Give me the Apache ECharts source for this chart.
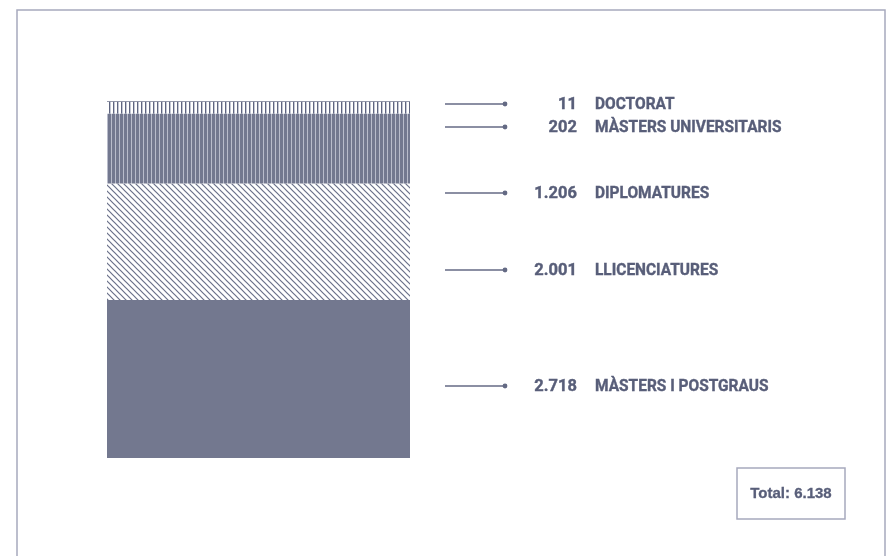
<!DOCTYPE html>
<html><head><meta charset="utf-8">
<script src="https://cdn.jsdelivr.net/npm/echarts@6/dist/echarts.min.js"></script>
<style>html,body{margin:0;padding:0;background:#fff}#c{width:894px;height:556px}</style>
</head><body><div id="c"></div>
<script>
// Data (top to bottom as listed in the reference)
var categories = ['DOCTORAT', 'MÀSTERS UNIVERSITARIS', 'DIPLOMATURES', 'LLICENCIATURES', 'MÀSTERS I POSTGRAUS'];
var values = [11, 202, 1206, 2001, 2718];
var valueLabels = ['11', '202', '1.206', '2.001', '2.718'];
var totalLabel = 'Total: 6.138';

var DARK = '#73788f';
var TEXT = '#585e79';
var FONT = 'bold 17px Roboto, sans-serif';

function tile(w, h, draw) {
  var c = document.createElement('canvas');
  c.width = w; c.height = h;
  var g = c.getContext('2d');
  draw(g, w, h);
  return {image: c, repeat: 'repeat'};
}
var patterns = [
  tile(5, 5, function (g) { g.fillStyle = DARK; g.fillRect(0, 0, 5, 5); g.fillStyle = '#e8e9ef'; g.fillRect(1, 2, 2, 1); }),
  tile(4, 4, function (g) { g.fillStyle = '#fff'; g.fillRect(0, 0, 4, 4); g.fillStyle = '#5f6580'; g.fillRect(1, 0, 1, 4); g.fillStyle = '#c3c6d3'; g.fillRect(2, 0, 1, 4); }),
  tile(4, 4, function (g) { g.fillStyle = DARK; g.fillRect(0, 0, 4, 4); g.fillStyle = '#b9bccb'; g.fillRect(3, 0, 1, 4); }),
  tile(6, 6, function (g) {
    g.fillStyle = '#fff'; g.fillRect(0, 0, 6, 6);
    g.strokeStyle = '#6a7089'; g.lineWidth = 1.2;
    g.beginPath(); g.moveTo(-1, -1); g.lineTo(7, 7); g.moveTo(-4, 2); g.lineTo(4, 10); g.moveTo(2, -4); g.lineTo(10, 4); g.stroke();
  }),
  DARK
];

var total = values.reduce(function (a, b) { return a + b; }, 0);

var series = [];
for (var i = categories.length - 1; i >= 0; i--) {
  series.push({
    type: 'bar', name: categories[i], stack: 's', data: [values[i]],
    barWidth: '100%', itemStyle: {color: patterns[i]}, silent: true, animation: false
  });
}

var labelY = [104, 127, 193, 270, 386];
var graphics = [
  {type: 'rect', shape: {x: 17, y: 10, width: 868, height: 560}, style: {fill: 'none', stroke: '#a7a9bd', lineWidth: 1.5}},
  {type: 'rect', shape: {x: 737, y: 468, width: 108, height: 51}, style: {fill: '#fff', stroke: '#a7a9bd', lineWidth: 1.5}},
  {type: 'text', x: 791, y: 494, style: {text: totalLabel, fill: TEXT, stroke: TEXT, lineWidth: 0.3, font: 'bold 15px "Liberation Sans", Arial, sans-serif', align: 'center', verticalAlign: 'middle'}}
];
for (var k = 0; k < categories.length; k++) {
  var y = labelY[k];
  graphics.push({type: 'line', shape: {x1: 445, y1: y, x2: 505, y2: y}, style: {stroke: '#646a84', lineWidth: 1.3}});
  graphics.push({type: 'circle', shape: {cx: 505, cy: y, r: 2.4}, style: {fill: '#646a84'}});
  graphics.push({type: 'text', x: 577, y: y + 1, scaleX: 0.97, style: {text: valueLabels[k], fill: TEXT, stroke: TEXT, lineWidth: 0.4, font: FONT, align: 'right', verticalAlign: 'middle'}});
  graphics.push({type: 'text', x: 595, y: y + 1, scaleX: 0.91, style: {text: categories[k], fill: TEXT, stroke: TEXT, lineWidth: 0.4, font: FONT, align: 'left', verticalAlign: 'middle'}});
}

var chart = echarts.init(document.getElementById('c'), null, {renderer: 'canvas'});
chart.setOption({
  animation: false,
  grid: {left: 107, top: 101, width: 303, bottom: 98},
  xAxis: {type: 'category', data: ['Total'], show: false},
  yAxis: {type: 'value', min: 0, max: total, show: false},
  series: series,
  graphic: graphics
});
</script></body></html>
